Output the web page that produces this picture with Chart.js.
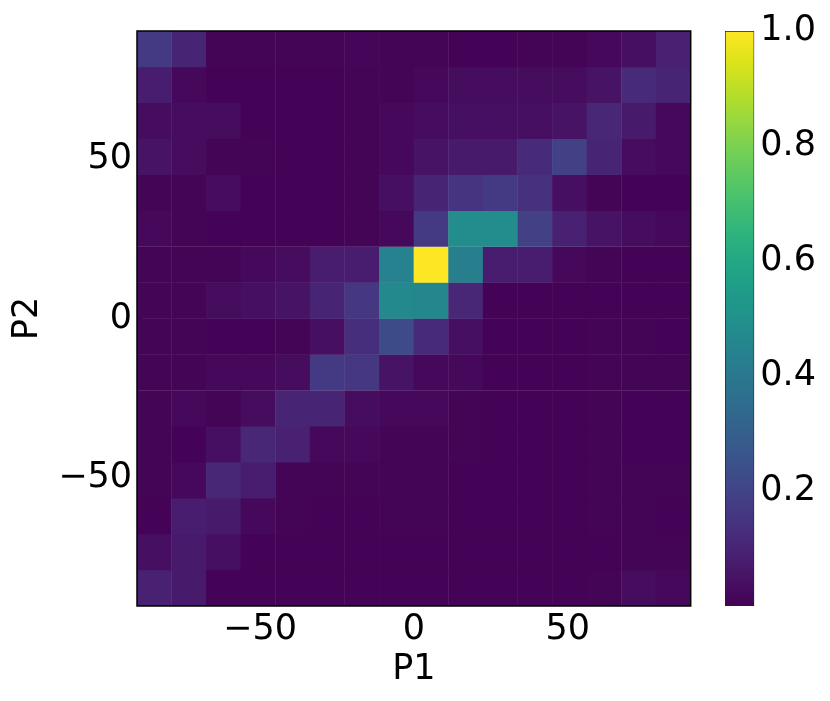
<!DOCTYPE html>
<html>
<head>
<meta charset="utf-8">
<script src="https://cdn.jsdelivr.net/npm/chart.js@4.4.1/dist/chart.umd.min.js"></script>
<style>
  body { margin: 0; background: #fff; }
  #wrap { position: relative; width: 830px; height: 701px; }
  canvas { position: absolute; left: 0; top: 0; }
</style>
</head>
<body>
<div id="wrap">
  <canvas id="heat" width="830" height="701"></canvas>
  <canvas id="cbar" width="830" height="701"></canvas>
</div>
<script>
// bin edges, same for P1 and P2
const BIN_EDGES = [-90, -78.75, -67.5, -56.25, -45, -33.75, -22.5, -11.25, 0,
                   11.25, 22.5, 33.75, 45, 56.25, 67.5, 78.75, 90];
const P1_TICKS = [-50, 0, 50];
const P2_TICKS = [-50, 0, 50];
const CBAR_TICKS = [0.2, 0.4, 0.6, 0.8, 1.0];

// normalised counts, one row per P2 bin, from the top (P2 = 90) down to P2 = -90
const COUNTS = [
  [0.17, 0.10, 0.01, 0.01, 0.01, 0.01, 0.015, 0.01, 0.01, 0.005, 0.005, 0.01, 0.01, 0.02, 0.04, 0.09],
  [0.08, 0.02, 0.005, 0.005, 0.005, 0.005, 0.01, 0.01, 0.02, 0.03, 0.03, 0.03, 0.03, 0.05, 0.12, 0.10],
  [0.03, 0.03, 0.03, 0.005, 0.005, 0.005, 0.01, 0.02, 0.03, 0.04, 0.04, 0.04, 0.05, 0.11, 0.07, 0.02],
  [0.05, 0.03, 0.01, 0.01, 0.005, 0.005, 0.01, 0.02, 0.05, 0.07, 0.07, 0.12, 0.19, 0.10, 0.03, 0.02],
  [0.01, 0.01, 0.03, 0.005, 0.005, 0.005, 0.01, 0.04, 0.10, 0.15, 0.17, 0.14, 0.04, 0.01, 0.005, 0.005],
  [0.02, 0.01, 0.005, 0.005, 0.005, 0.005, 0.01, 0.02, 0.17, 0.48, 0.48, 0.19, 0.09, 0.05, 0.03, 0.02],
  [0.01, 0.01, 0.01, 0.02, 0.03, 0.08, 0.08, 0.44, 1.00, 0.43, 0.08, 0.08, 0.02, 0.01, 0.005, 0.005],
  [0.01, 0.01, 0.03, 0.04, 0.05, 0.10, 0.16, 0.47, 0.46, 0.11, 0.005, 0.005, 0.005, 0.005, 0.005, 0.005],
  [0.01, 0.01, 0.005, 0.005, 0.01, 0.04, 0.13, 0.23, 0.12, 0.04, 0.005, 0.005, 0.005, 0.01, 0.01, 0.005],
  [0.01, 0.01, 0.02, 0.02, 0.03, 0.17, 0.16, 0.05, 0.02, 0.02, 0.005, 0.005, 0.005, 0.01, 0.01, 0.01],
  [0.01, 0.02, 0.01, 0.03, 0.10, 0.10, 0.03, 0.02, 0.02, 0.01, 0.005, 0.005, 0.005, 0.01, 0.005, 0.005],
  [0.01, 0.005, 0.04, 0.11, 0.09, 0.02, 0.02, 0.01, 0.01, 0.01, 0.005, 0.005, 0.005, 0.01, 0.005, 0.005],
  [0.01, 0.02, 0.11, 0.08, 0.01, 0.01, 0.01, 0.01, 0.01, 0.005, 0.005, 0.005, 0.005, 0.01, 0.01, 0.01],
  [0.005, 0.08, 0.07, 0.02, 0.01, 0.005, 0.005, 0.01, 0.01, 0.005, 0.005, 0.005, 0.005, 0.01, 0.01, 0.005],
  [0.04, 0.07, 0.04, 0.005, 0.005, 0.005, 0.005, 0.005, 0.005, 0.005, 0.005, 0.005, 0.005, 0.005, 0.01, 0.01],
  [0.09, 0.07, 0.005, 0.005, 0.005, 0.005, 0.005, 0.005, 0.005, 0.005, 0.005, 0.005, 0.005, 0.01, 0.03, 0.02]
];

// viridis, 21 stops from 0 to 1
const VIRIDIS = ['#440154', '#471365', '#482475', '#463480', '#414487', '#3b528b', '#355f8d',
  '#2f6c8e', '#2a788e', '#25848e', '#21918c', '#1e9c89', '#22a884', '#2fb47c', '#44bf70',
  '#5ec962', '#7ad151', '#9bd93c', '#bddf26', '#dfe318', '#fde725'];

function hexToRgb(h) {
  return [parseInt(h.slice(1, 3), 16), parseInt(h.slice(3, 5), 16), parseInt(h.slice(5, 7), 16)];
}
function viridis(v) {
  const t = Math.max(0, Math.min(1, v)) * (VIRIDIS.length - 1);
  const i = Math.min(Math.floor(t), VIRIDIS.length - 2);
  const f = t - i;
  const a = hexToRgb(VIRIDIS[i]), b = hexToRgb(VIRIDIS[i + 1]);
  const c = a.map((x, k) => Math.round(x + (b[k] - x) * f));
  return 'rgb(' + c.join(',') + ')';
}

const FONT = { family: "'DejaVu Sans', sans-serif", size: 35 };
const minus = v => (v < 0 ? '\u2212' + Math.abs(v) : String(v));
const nRows = BIN_EDGES.length - 1;

// cells sit on a hidden value axis 'yb' so that the zero tick does not trim them
const datasets = COUNTS.map((row, r) => {
  const lo = BIN_EDGES[nRows - 1 - r], hi = BIN_EDGES[nRows - r];
  return {
    yAxisID: 'yb',
    data: row.map((v, c) => ({ x: (BIN_EDGES[c] + BIN_EDGES[c + 1]) / 2, y: [lo, hi] })),
    backgroundColor: row.map(viridis),
    borderWidth: 0,
    inflateAmount: 0.2,
    barPercentage: 1,
    categoryPercentage: 1,
    grouped: false
  };
});

const frame = {
  id: 'frame',
  afterDraw(chart) {
    const a = chart.chartArea, ctx = chart.ctx;
    ctx.save();
    ctx.strokeStyle = '#000';
    ctx.lineWidth = 1.5;
    ctx.strokeRect(a.left, a.top, a.right - a.left, a.bottom - a.top);
    ctx.restore();
  }
};

new Chart(document.getElementById('heat'), {
  type: 'bar',
  data: { datasets: datasets },
  plugins: [frame],
  options: {
    responsive: false,
    animation: false,
    events: [],
    layout: { padding: { left: 0, top: 25, right: 139.3, bottom: 0 } },
    plugins: { legend: { display: false }, tooltip: { enabled: false } },
    scales: {
      x: {
        type: 'linear', min: -90, max: 90, offset: false, z: 1,
        afterBuildTicks: s => { s.ticks = P1_TICKS.map(v => ({ value: v })); },
        afterFit: s => { s.height = 95; },
        grid: { drawOnChartArea: false, offset: false, tickLength: -5, color: '#000', lineWidth: 1.1 },
        border: { display: false },
        ticks: { font: FONT, color: '#000', padding: 8, maxRotation: 0, callback: minus },
        title: { display: true, text: 'P1', font: FONT, color: '#000', padding: { top: 0, bottom: 10 } }
      },
      y: {
        type: 'linear', position: 'left', min: -90, max: 90, z: 1,
        afterBuildTicks: s => { s.ticks = P2_TICKS.map(v => ({ value: v })); },
        afterFit: s => { s.width = 137; },
        grid: { drawOnChartArea: false, tickLength: -5, color: '#000', lineWidth: 1.1 },
        border: { display: false },
        ticks: { font: FONT, color: '#000', padding: 10, callback: minus },
        title: { display: true, text: 'P2', font: FONT, color: '#000', padding: { top: 7, bottom: 0 } }
      },
      yb: { type: 'linear', position: 'left', min: -90, max: 90, display: false }
    }
  }
});

function barGradient(chart) {
  const a = chart.chartArea;
  if (!a) return VIRIDIS[0];
  const g = chart.ctx.createLinearGradient(0, a.bottom, 0, a.top);
  VIRIDIS.forEach((c, i) => g.addColorStop(i / (VIRIDIS.length - 1), c));
  return g;
}

new Chart(document.getElementById('cbar'), {
  type: 'bar',
  data: {
    labels: [''],
    datasets: [{
      data: [[0, 1]],
      backgroundColor: ctx => barGradient(ctx.chart),
      borderColor: '#222',
      borderWidth: 1,
      borderSkipped: false,
      barPercentage: 1,
      categoryPercentage: 1
    }]
  },
  options: {
    responsive: false,
    animation: false,
    events: [],
    layout: { padding: { left: 725, top: 25, right: 0, bottom: 95 } },
    plugins: { legend: { display: false }, tooltip: { enabled: false } },
    scales: {
      x: { display: false },
      y: {
        position: 'right', min: 0, max: 1, z: 1,
        afterBuildTicks: s => { s.ticks = CBAR_TICKS.map(v => ({ value: v })); },
        afterFit: s => { s.width = 75.7; },
        grid: { drawOnChartArea: false, tickLength: -4, color: '#000', lineWidth: 1 },
        border: { display: false },
        ticks: { font: FONT, color: '#000', padding: 10, callback: v => v.toFixed(1) }
      }
    }
  }
});
</script>
</body>
</html>
